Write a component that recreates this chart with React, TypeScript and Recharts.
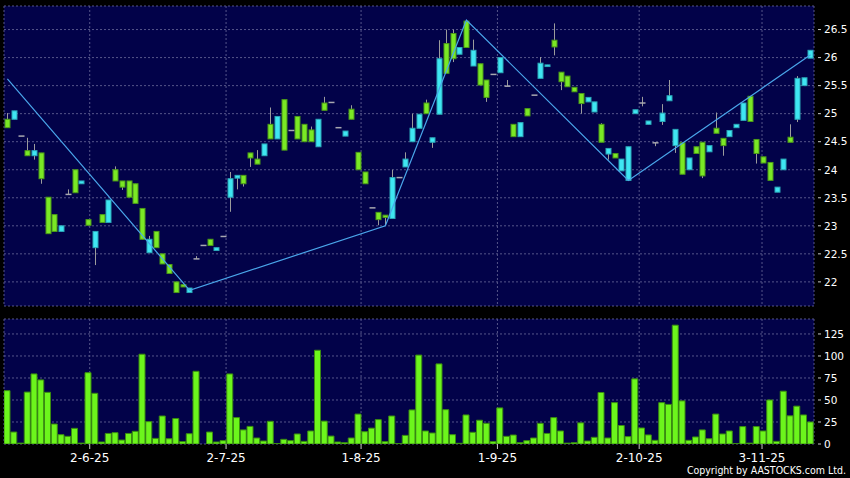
import { ComposedChart, Bar, Line, XAxis, YAxis, CartesianGrid } from 'recharts';

// daily candles, one per trading slot (left to right)
const opens = [
  24.9, 24.9, 24.6, 24.34, 24.25, 24.3, 23.51, 23.2, 22.9, 23.56,
  24.0, 23.75, 23.11, 22.61, 23.2, 23.06, 24.0, 23.8, 23.8, 23.75,
  23.31, 22.52, 22.9, 22.5, 22.31, 22.0, 21.95, 21.81, 22.41, 22.65,
  22.76, 22.56, 22.81, 23.51, 23.85, 23.9, 24.3, 24.19, 24.25, 24.81,
  24.55, 25.25, 24.7, 24.95, 24.81, 24.71, 24.41, 25.19, 25.2, 24.75,
  24.6, 25.08, 24.31, 23.96, 23.32, 23.24, 23.19, 23.13, 23.86, 24.05,
  24.5, 24.74, 25.19, 24.49, 24.99, 26.25, 26.43, 26.06, 26.65, 25.85,
  25.89, 25.6, 25.7, 25.73, 25.49, 24.81, 24.59, 25.09, 25.33, 25.63,
  25.84, 26.31, 25.74, 25.67, 25.47, 25.36, 25.21, 25.03, 24.81, 24.28,
  24.29, 23.98, 23.81, 25.0, 25.19, 24.81, 24.48, 24.86, 25.23, 24.43,
  24.48, 24.0, 24.41, 24.49, 24.32, 24.74, 24.56, 24.59, 24.75, 24.88,
  25.31, 24.54, 24.23, 24.13, 23.6, 24.0, 24.58, 24.9, 25.5, 25.99,
];
const closes = [
  24.75, 25.05, 24.6, 24.25, 24.34, 23.84, 22.86, 22.9, 23.0, 23.56,
  23.59, 23.8, 23.01, 22.9, 23.06, 23.46, 23.8, 23.69, 23.51, 23.4,
  22.76, 22.76, 22.61, 22.32, 22.15, 21.81, 21.91, 21.89, 22.41, 22.65,
  22.65, 22.61, 22.81, 23.84, 23.9, 23.75, 24.21, 24.1, 24.46, 24.55,
  24.95, 24.35, 24.7, 24.55, 24.5, 24.5, 24.9, 25.06, 25.2, 24.75,
  24.69, 24.9, 24.0, 23.75, 23.32, 23.11, 23.15, 23.86, 23.86, 24.19,
  24.74, 24.99, 25.0, 24.57, 25.98, 25.72, 25.98, 26.18, 26.18, 26.13,
  25.51, 25.29, 25.7, 26.0, 25.49, 24.59, 24.84, 24.96, 25.33, 25.9,
  25.87, 26.19, 25.57, 25.48, 25.39, 25.18, 25.29, 25.21, 24.49, 24.38,
  24.21, 24.19, 24.41, 25.07, 25.19, 24.87, 24.48, 25.01, 25.32, 24.72,
  23.92, 24.21, 24.29, 23.89, 24.43, 24.65, 24.43, 24.7, 24.81, 25.19,
  24.86, 24.29, 24.12, 23.81, 23.69, 24.19, 24.49, 25.63, 25.64, 26.13,
];
const highs = [
  25.01, 25.05, 24.6, 24.57, 24.46, 24.3, 23.51, 23.2, 23.0, 23.65,
  24.0, 23.8, 23.11, 22.9, 23.2, 23.46, 24.06, 23.8, 23.8, 23.75,
  23.31, 22.82, 22.9, 22.5, 22.31, 22.0, 21.95, 21.89, 22.46, 22.65,
  22.76, 22.61, 22.81, 23.96, 23.9, 23.9, 24.3, 24.35, 24.46, 25.11,
  24.95, 25.25, 24.7, 24.95, 24.81, 24.77, 24.9, 25.3, 25.2, 24.75,
  24.69, 25.15, 24.31, 23.96, 23.32, 23.24, 23.19, 24.0, 23.86, 24.31,
  25.0, 24.99, 25.25, 24.57, 26.31, 26.5, 26.5, 26.18, 26.67, 26.32,
  25.89, 25.6, 25.7, 26.0, 25.6, 24.81, 24.84, 25.09, 25.33, 26.01,
  25.87, 26.61, 25.74, 25.67, 25.47, 25.36, 25.29, 25.21, 24.83, 24.38,
  24.29, 24.19, 24.41, 25.07, 25.3, 24.87, 24.48, 25.17, 25.6, 24.72,
  24.48, 24.21, 24.41, 24.49, 24.43, 25.02, 24.56, 24.7, 24.81, 25.19,
  25.31, 24.54, 24.23, 24.13, 23.69, 24.19, 24.81, 25.67, 25.64, 26.13,
];
const lows = [
  24.75, 24.9, 24.6, 24.25, 24.18, 23.75, 22.86, 22.9, 22.9, 23.56,
  23.59, 23.75, 23.01, 22.3, 23.06, 23.06, 23.8, 23.64, 23.51, 23.4,
  22.76, 22.52, 22.61, 22.32, 22.15, 21.81, 21.91, 21.81, 22.41, 22.65,
  22.65, 22.56, 22.81, 23.25, 23.65, 23.7, 24.05, 24.1, 24.25, 24.55,
  24.55, 24.35, 24.7, 24.55, 24.5, 24.5, 24.41, 25.06, 25.2, 24.75,
  24.6, 24.9, 24.0, 23.75, 23.32, 23.01, 23.0, 23.13, 23.86, 24.05,
  24.5, 24.74, 25.0, 24.39, 24.99, 25.72, 25.92, 26.06, 26.18, 25.85,
  25.51, 25.21, 25.7, 25.73, 25.49, 24.59, 24.59, 24.96, 25.33, 25.63,
  25.84, 26.04, 25.42, 25.48, 25.39, 25.0, 25.21, 25.03, 24.49, 24.18,
  24.21, 23.98, 23.81, 25.0, 25.13, 24.81, 24.42, 24.8, 25.23, 24.3,
  23.92, 24.0, 24.29, 23.85, 24.32, 24.65, 24.25, 24.59, 24.75, 24.88,
  24.86, 24.11, 24.12, 23.81, 23.6, 24.0, 24.49, 24.85, 25.5, 25.99,
];
const volumes = [
  60.6, 13.6, 1, 59, 79.6, 72.8, 58.7, 22.7, 10.6, 8.7,
  17.8, 1, 81, 57.6, 2.3, 12, 12.9, 4.5, 12, 14.4,
  102, 25.4, 6.4, 31.8, 6, 29, 2.7, 11.7, 82.6, 0,
  13.6, 2.3, 3.8, 79.6, 30, 16, 20, 6.8, 3.4, 25.8,
  0.5, 5.3, 3.8, 11.4, 3, 14.8, 106.5, 26, 9, 2.3,
  1.5, 6.8, 34, 14, 18, 27.7, 2.7, 31.8, 0.5, 9.8,
  38.7, 101, 14.8, 12.5, 91, 39, 10.6, 0.8, 33, 13.3,
  27, 23.5, 2.7, 41, 8.7, 10.2, 1.5, 3.8, 6.8, 23.5,
  12, 30, 14.8, 1, 1.5, 24, 3.4, 7.6, 58.5, 6.8,
  47, 21, 8.4, 74, 18.2, 10.3, 4.2, 47, 45, 135,
  49, 4.2, 8, 16, 6, 34, 11.4, 14.8, 0.5, 19.8,
  1, 19.8, 14.8, 50, 3, 60, 32, 43, 33, 25,
];

// zigzag pivots (slot, price)
const zigSlots = [0, 27, 56, 68, 92, 119];
const zigValues = [25.62, 21.85, 23.0, 26.67, 23.81, 26.05];

const dateTicks = [12.2, 32.4, 52.4, 72.6, 93.6, 111.8];
const dateLabels = ['2-6-25', '2-7-25', '1-8-25', '1-9-25', '2-10-25', '3-11-25'];
const priceTicks = [22, 22.5, 23, 23.5, 24, 24.5, 25, 25.5, 26, 26.5];
const volumeTicks = [0, 25, 50, 75, 100, 125];

const data = opens.map((o, i) => {
  const z = zigSlots.indexOf(i);
  return {
    i,
    open: o,
    close: closes[i],
    high: highs[i],
    low: lows[i],
    vol: volumes[i],
    zig: z >= 0 ? zigValues[z] : null,
  };
});

const UP = '#3fe6f2';
const UP_EDGE = '#2aa7b8';
const DOWN = '#7ae825';
const DOWN_EDGE = '#4b9a18';
const WICK = '#9c9c9c';
const PLOT_BG = '#020249';
const GRID = '#56568a';

const Candle = (props: any) => {
  const { x, y, width, height, payload } = props;
  if (x == null || y == null) return null;
  const { open, close, high, low } = payload;
  const top0 = Math.min(y, y + height);
  const h = Math.abs(height);
  const span = high - low;
  const py = (v: number) => (span > 0 ? top0 + ((high - v) / span) * h : top0);
  const cx = Math.round(x + width / 2) + 0.5;
  if (open === close) {
    return (
      <g>
        {span > 0 && <line x1={cx} x2={cx} y1={top0} y2={top0 + h} stroke={WICK} />}
        <line x1={cx - 3} x2={cx + 3} y1={py(open)} y2={py(open)} stroke="#a8a8b0" strokeWidth={1.5} />
      </g>
    );
  }
  const up = close > open;
  const bTop = py(Math.max(open, close));
  const bBot = py(Math.min(open, close));
  return (
    <g>
      <line x1={cx} x2={cx} y1={top0} y2={top0 + h} stroke={WICK} />
      <rect
        x={cx - 2.5}
        y={bTop}
        width={5}
        height={Math.max(bBot - bTop, 1.5)}
        fill={up ? UP : DOWN}
        stroke={up ? UP_EDGE : DOWN_EDGE}
        strokeWidth={1}
      />
    </g>
  );
};

const RightTick = (props: any) => {
  const { x, y, payload } = props;
  return (
    <g>
      <line x1={x + 4} x2={x + 7} y1={y} y2={y} stroke="#c8c8c8" />
      <text x={x + 10} y={y} dy="0.36em" fill="#ffffff" fontSize={10.5} fontFamily="DejaVu Sans">
        {payload.value}
      </text>
    </g>
  );
};

export default function App() {
  return (
    <div
      style={{
        position: 'absolute',
        left: 0,
        top: 0,
        width: 850,
        height: 478,
        background: '#000',
        overflow: 'hidden',
        fontFamily: 'DejaVu Sans',
      }}
    >
      <div style={{ position: 'absolute', left: 0, top: 0 }}>
        <ComposedChart width={850} height={310} data={data} margin={{ top: 6, right: 0, bottom: 4, left: 4 }}>
          <CartesianGrid fill={PLOT_BG} stroke={GRID} strokeDasharray="2 2" />
          <XAxis hide type="number" dataKey="i" domain={[-0.5, 119.5]} ticks={dateTicks} allowDataOverflow />
          <YAxis
            orientation="right"
            width={36}
            domain={[21.57, 26.92]}
            allowDataOverflow
            ticks={priceTicks}
            interval={0}
            axisLine={false}
            tickLine={false}
            tickSize={0}
            tickMargin={0}
            tick={<RightTick />}
          />
          <Bar
            dataKey={(d: any) => [d.low, d.high]}
            barSize={6}
            shape={<Candle />}
            isAnimationActive={false}
          />
          <Line
            dataKey="zig"
            connectNulls
            dot={false}
            activeDot={false}
            stroke="#4aa6ea"
            strokeWidth={1.2}
            isAnimationActive={false}
          />
        </ComposedChart>
      </div>
      <div style={{ position: 'absolute', left: 0, top: 310 }}>
        <ComposedChart width={850} height={168} data={data} margin={{ top: 9, right: 0, bottom: 10, left: 4 }}>
          <CartesianGrid fill={PLOT_BG} stroke={GRID} strokeDasharray="2 2" />
          <XAxis
            type="number"
            dataKey="i"
            domain={[-0.5, 119.5]}
            allowDataOverflow
            ticks={dateTicks}
            interval={0}
            height={24}
            axisLine={false}
            tickSize={5}
            tickMargin={4}
            tickLine={{ stroke: '#c8c8c8' }}
            tick={{ fill: '#ffffff', fontSize: 12, fontFamily: 'DejaVu Sans' }}
            tickFormatter={(v: number) => dateLabels[dateTicks.indexOf(v)]}
          />
          <YAxis
            orientation="right"
            width={36}
            domain={[0, 142]}
            allowDataOverflow
            ticks={volumeTicks}
            interval={0}
            axisLine={false}
            tickLine={false}
            tickSize={0}
            tickMargin={0}
            tick={<RightTick />}
          />
          <Bar dataKey="vol" barSize={6} fill="#6cf51c" stroke="#3a8c10" strokeWidth={1} isAnimationActive={false} />
        </ComposedChart>
      </div>
      <div
        style={{
          position: 'absolute',
          right: 4,
          top: 465,
          color: '#ffffff',
          fontSize: 10.5,
          lineHeight: '11px',
          fontFamily: "'DejaVu Sans Condensed', 'DejaVu Sans'",
          fontStretch: 'condensed',
          whiteSpace: 'nowrap',
        }}
      >
        Copyright by AASTOCKS.com Ltd.
      </div>
    </div>
  );
}
